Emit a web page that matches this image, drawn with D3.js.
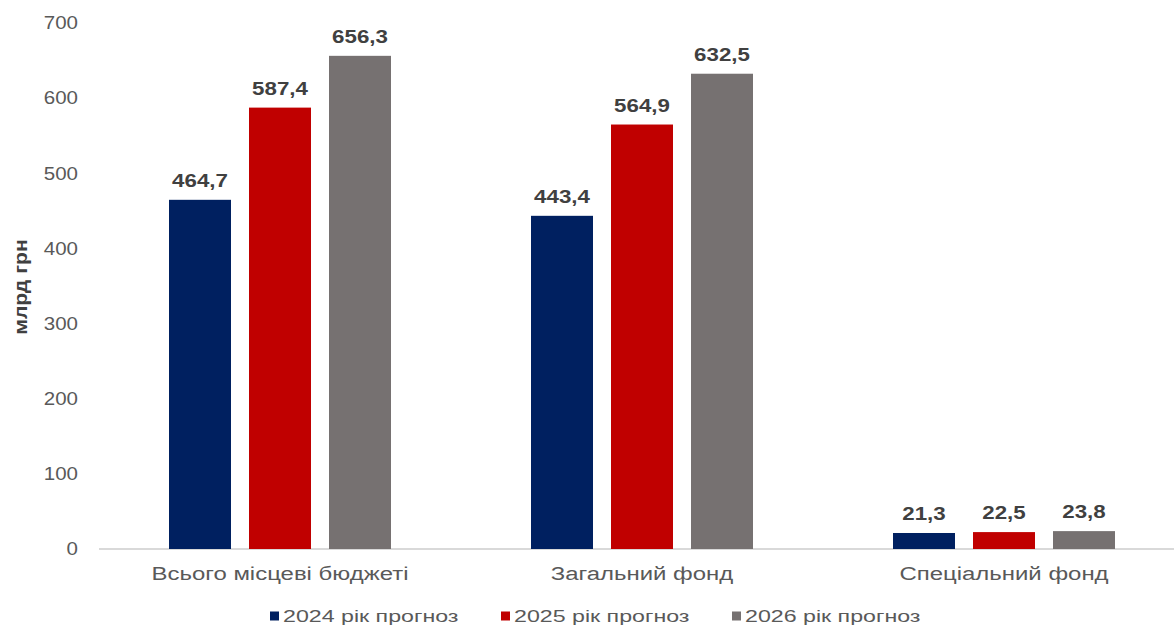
<!DOCTYPE html>
<html>
<head>
<meta charset="utf-8">
<script src="https://cdn.jsdelivr.net/npm/d3@7"></script>
<style>
  html, body { margin: 0; padding: 0; background: #fff; }
  svg { display: block; font-family: "Liberation Sans", Arial, sans-serif; }
</style>
</head>
<body>
<svg id="chart" width="1174" height="627"></svg>
<script>
// Revenue of local budgets, UAH bn
const categories = ["Всього місцеві бюджеті", "Загальний фонд", "Спеціальний фонд"];
const seriesNames = ["2024 рік прогноз", "2025 рік прогноз", "2026 рік прогноз"];
const values2024 = [464.7, 443.4, 21.3];
const values2025 = [587.4, 564.9, 22.5];
const values2026 = [656.3, 632.5, 23.8];
const yTicks = [0, 100, 200, 300, 400, 500, 600, 700];
const seriesColors = ["#002060", "#C00000", "#767171"];
const yTitle = "млрд грн";

const seriesValues = [values2024, values2025, values2026];
const fmt = v => v.toFixed(1).replace(".", ",");

const svg = d3.select("#chart");

const y = d3.scaleLinear().domain([0, 700]).range([549, 23]);
const x0 = d3.scaleBand().domain(categories).range([99, 1185]);
const x1 = d3.scaleBand().domain(seriesNames).range([-111, 111]).paddingInner(0.225);

// places text at (px, py) with a horizontal stretch
function stretched(sel, px, py, sx) {
  return sel.attr("transform", `translate(${px},${py}) scale(${sx},1)`);
}

// y tick labels
const yAxis = svg.append("g");
yTicks.forEach(t => {
  stretched(yAxis.append("text"), 78, y(t), 1.14)
    .attr("text-anchor", "end")
    .attr("dy", "0.35em")
    .attr("font-size", 18)
    .attr("fill", "#595959")
    .text(t);
});

// baseline
svg.append("line")
  .attr("x1", 99).attr("x2", 1174)
  .attr("y1", y(0)).attr("y2", y(0))
  .attr("stroke", "#d9d9d9").attr("stroke-width", 2);

// bars and value labels
const groups = svg.append("g").selectAll("g")
  .data(categories)
  .join("g")
  .attr("transform", d => `translate(${x0(d) + x0.bandwidth() / 2},0)`);

groups.each(function(cat, ci) {
  const g = d3.select(this);
  seriesNames.forEach((s, si) => {
    const v = seriesValues[si][ci];
    g.append("rect")
      .attr("x", x1(s))
      .attr("width", x1.bandwidth())
      .attr("y", y(v))
      .attr("height", y(0) - y(v))
      .attr("fill", seriesColors[si]);
    stretched(g.append("text"), x1(s) + x1.bandwidth() / 2, y(v) - 13, 1.24)
      .attr("text-anchor", "middle")
      .attr("font-size", 18)
      .attr("font-weight", "bold")
      .attr("fill", "#404040")
      .text(fmt(v));
  });
  stretched(g.append("text"), 0, 580, 1.26)
    .attr("text-anchor", "middle")
    .attr("font-size", 19)
    .attr("fill", "#595959")
    .text(cat);
});

// y axis title
svg.append("text")
  .attr("transform", "translate(27,287) rotate(-90) scale(1.18,1)")
  .attr("text-anchor", "middle")
  .attr("font-size", 18)
  .attr("font-weight", "bold")
  .attr("fill", "#404040")
  .text(yTitle);

// legend
const legendX = [270, 501, 732];
seriesNames.forEach((s, i) => {
  const lg = svg.append("g").attr("transform", `translate(${legendX[i]},616)`);
  lg.append("rect").attr("x", 0).attr("y", -4.5).attr("width", 9).attr("height", 9)
    .attr("fill", seriesColors[i]);
  stretched(lg.append("text"), 13, 0, 1.45)
    .attr("dy", "0.35em")
    .attr("font-size", 16)
    .attr("fill", "#595959")
    .text(s);
});
</script>
</body>
</html>
